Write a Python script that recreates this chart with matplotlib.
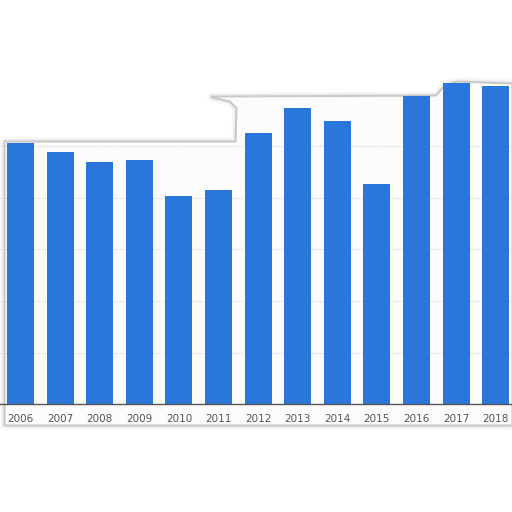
import matplotlib
matplotlib.use("Agg")
import matplotlib.pyplot as plt
from matplotlib.patches import Polygon

years = ['2006', '2007', '2008', '2009', '2010', '2011', '2012',
         '2013', '2014', '2015', '2016', '2017', '2018']
values = [5.07, 4.90, 4.70, 4.74, 4.03, 4.16, 5.27,
          5.74, 5.50, 4.27, 5.98, 6.23, 6.18]

W = 512.0

def px(x, y):
    return (x / W, 1 - y / W)

fig = plt.figure(figsize=(5.12, 5.12), dpi=100)
fig.patch.set_facecolor('white')

# torn panel outline behind the chart
outline = [(5, 142), (236, 142), (237, 108), (230, 101), (212, 97), (436, 96),
           (446, 85), (458, 82), (512, 84), (512, 425), (5, 425)]
pts = [px(x, y) for x, y in outline]
for lw, a in [(7, 0.05), (4, 0.1), (2, 0.3)]:
    fig.patches.append(Polygon(pts, closed=True, transform=fig.transFigure,
                               facecolor='none', edgecolor='#777777',
                               linewidth=lw, alpha=a, joinstyle='round',
                               zorder=-2))
fig.patches.append(Polygon(pts, closed=True, transform=fig.transFigure,
                           facecolor='#fcfcfc', edgecolor='#c8c8c8',
                           linewidth=0.8, joinstyle='round', zorder=-1))

ax = fig.add_axes([0, 108 / W, 1, (404 - 60) / W])
ax.set_facecolor('none')
x = list(range(len(years)))
ax.bar(x, values, width=0.68, color='#2a76db', zorder=3)

ax.set_xlim(-20.5 / 39.6, (512 - 20.5) / 39.6)
ax.set_ylim(0, (404 - 60) / 51.5)
ax.set_yticks([1, 2, 3, 4, 5])
ax.yaxis.grid(True, linestyle=(0, (1, 1.5)), color='#cfcfcf', linewidth=0.8, zorder=0)
ax.set_yticklabels([])
ax.tick_params(axis='y', length=0)
ax.set_xticks(x)
ax.set_xticklabels(years, color='#555555', fontsize=7.5)
ax.tick_params(axis='x', length=0, pad=7)

for s in ['top', 'right', 'left']:
    ax.spines[s].set_visible(False)
ax.spines['bottom'].set_color('#555555')
ax.spines['bottom'].set_linewidth(1.0)
ax.spines['bottom'].set_zorder(4)

fig.savefig('out.png', dpi=100)
